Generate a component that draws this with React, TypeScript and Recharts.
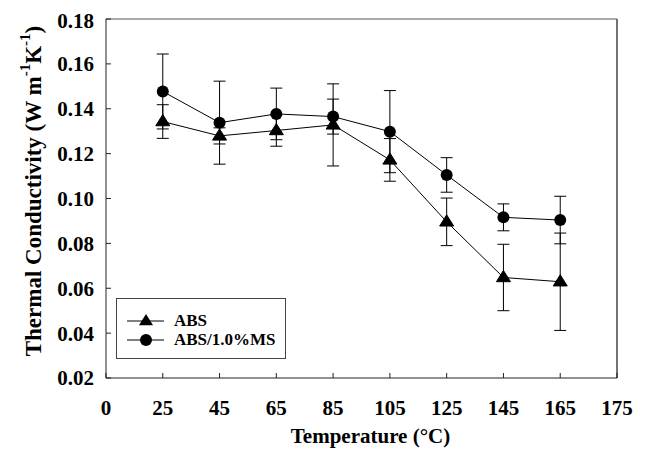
import React from 'react';
import { LineChart, Line, XAxis, YAxis, ErrorBar, ReferenceLine, Legend } from 'recharts';

const categories = ['25', '45', '65', '85', '105', '125', '145', '165'];
const tickLabels = ['0', '25', '45', '65', '85', '105', '125', '145', '165', '175'];
const absValues = [0.1343, 0.1279, 0.1303, 0.1328, 0.1172, 0.0896, 0.0648, 0.0629];
const absErrors = [0.0075, 0.0036, 0.007, 0.0183, 0.0095, 0.0106, 0.0148, 0.0217];
const msValues = [0.1477, 0.1338, 0.1377, 0.1365, 0.1298, 0.1105, 0.0916, 0.0904];
const msErrors = [0.0167, 0.0185, 0.0115, 0.0078, 0.0183, 0.0077, 0.006, 0.0106];
const yTicks = [0.02, 0.04, 0.06, 0.08, 0.1, 0.12, 0.14, 0.16, 0.18];
const seriesNames = ['ABS', 'ABS/1.0%MS'];

const data = categories.map((c, i) => ({
  x: i + 1,
  label: c,
  abs: absValues[i],
  absErr: absErrors[i],
  ms: msValues[i],
  msErr: msErrors[i],
}));

const FONT = '"Liberation Serif", "Times New Roman", serif';

const Triangle = (props: any) => {
  const { cx, cy } = props;
  if (cx == null || cy == null) return null;
  const s = 7;
  return (
    <polygon
      points={`${cx},${cy - s} ${cx - s},${cy + s * 0.6} ${cx + s},${cy + s * 0.6}`}
      fill="#000"
      stroke="#000"
    />
  );
};

const TriIcon = ({ cx, cy }: { cx: number; cy: number }) => {
  const s = 7;
  return (
    <polygon
      points={`${cx},${cy - s} ${cx - s},${cy + s * 0.6} ${cx + s},${cy + s * 0.6}`}
      fill="#000"
    />
  );
};

const LegendContent = () => (
  <div
    style={{
      position: 'relative',
      width: 170,
      height: 61,
      boxSizing: 'border-box',
      border: '1px solid #444',
      background: '#fff',
      fontFamily: FONT,
      fontWeight: 'bold',
      fontSize: 17,
      color: '#000',
    }}
  >
    {seriesNames.map((name, i) => {
      const cy = 22 + 19.3 * i;
      return (
        <div key={name} style={{ position: 'absolute', left: 0, top: cy - 10, height: 20, width: 170 }}>
          <svg width={40} height={20} style={{ position: 'absolute', left: 9, top: 0 }}>
            <line x1={1} y1={10} x2={38} y2={10} stroke="#000" strokeWidth={1} />
            {i === 0 ? <TriIcon cx={20} cy={10} /> : <circle cx={20} cy={10} r={6} fill="#000" />}
          </svg>
          <span style={{ position: 'absolute', left: 57, top: 0, lineHeight: '20px', whiteSpace: 'nowrap' }}>{name}</span>
        </div>
      );
    })}
  </div>
);

const YTitle = () => (
  <text
    transform="translate(25,183) rotate(-90)"
    textAnchor="middle"
    dominantBaseline="central"
    fontFamily={FONT}
    fontWeight="bold"
    fontSize={23}
    fill="#000"
  >
    Thermal Conductivity (W m
    <tspan dy={-8} fontSize={15}>-1</tspan>
    <tspan dy={8}>K</tspan>
    <tspan dy={-8} fontSize={15}>-1</tspan>
    <tspan dy={8}>)</tspan>
  </text>
);

export default function App() {
  const tickStyle = { fontFamily: FONT, fontWeight: 'bold' as const, fontSize: 21, fill: '#000' };
  return (
    <LineChart width={630} height={441} data={data} margin={{ top: 11, right: 21, bottom: 0, left: 0 }}>
      <XAxis
        dataKey="x"
        type="number"
        domain={[0, 9]}
        ticks={[0, 1, 2, 3, 4, 5, 6, 7, 8, 9]}
        tickFormatter={(v: number) => tickLabels[v]}
        height={71}
        tickSize={-5}
        tickMargin={27}
        tick={tickStyle}
        axisLine={{ stroke: '#222' }}
        tickLine={{ stroke: '#222' }}
        allowDataOverflow
        label={{
          value: 'Temperature (°C)',
          position: 'insideBottom',
          offset: 6,
          dx: 9,
          style: { fontFamily: FONT, fontWeight: 'bold', fontSize: 21, fill: '#000' },
        }}
      />
      <YAxis
        type="number"
        domain={[0.02, 0.18]}
        ticks={yTicks}
        tickFormatter={(v: number) => v.toFixed(2)}
        width={98}
        tickSize={-5}
        tickMargin={17}
        tick={tickStyle}
        axisLine={{ stroke: '#222' }}
        tickLine={{ stroke: '#222' }}
        allowDataOverflow
        label={<YTitle />}
      />
      <ReferenceLine y={0.18} stroke="#555" strokeWidth={1} />
      <ReferenceLine x={9} stroke="#444" strokeWidth={1.5} />
      <Legend
        layout="horizontal"
        verticalAlign="middle"
        align="center"
        content={<LegendContent />}
        wrapperStyle={{ position: 'absolute', left: 108, top: 290, width: 170, height: 61 }}
      />
      <Line
        dataKey="abs"
        name="ABS"
        stroke="#000"
        strokeWidth={1}
        dot={<Triangle />}
        activeDot={false}
        isAnimationActive={false}
      >
        <ErrorBar dataKey="absErr" width={6} stroke="#000" strokeWidth={1} direction="y" isAnimationActive={false} />
      </Line>
      <Line
        dataKey="ms"
        name="ABS/1.0%MS"
        stroke="#000"
        strokeWidth={1}
        dot={{ r: 6, fill: '#000', stroke: '#000', strokeWidth: 0 }}
        activeDot={false}
        isAnimationActive={false}
      >
        <ErrorBar dataKey="msErr" width={6} stroke="#000" strokeWidth={1} direction="y" isAnimationActive={false} />
      </Line>
    </LineChart>
  );
}
